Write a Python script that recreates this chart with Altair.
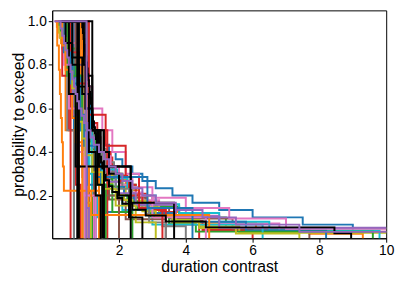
import altair as alt
import pandas as pd

# --- short samples ---
a01 = [0.06, 1.03]
a02 = [0.3, 0.75]
a03 = [0.45, 0.8]
a04 = [0.1, 0.9]
a05 = [0.2, 0.95]
a06 = [0.15, 1.0]
a07 = [0.1, 0.55]
a08 = [0.2, 0.97]
a09 = [0.25, 1.05, 1.4]
a10 = [0.3, 1.1, 1.65]
a11 = [0.4, 1.2, 1.55]
a12 = [0.3, 1.0, 1.5]
a13 = [0.2, 0.5, 0.7, 2.35]
a14 = [0.3, 1.02, 1.18, 1.5]
a15 = [0.3, 1.02, 1.2, 1.35, 1.5]
a16 = [0.2, 0.6, 0.85, 1.05, 1.3]
a17 = [0.15, 0.7, 1.0, 1.1, 1.25, 2.0]
a18 = [0.2, 0.45, 0.9, 1.3, 1.6]
a19 = [0.1, 0.35, 0.5, 0.8, 0.97, 1.3]
a20 = [0.25, 0.6, 0.9, 1.1, 1.4, 2.35, 3.65]
a21 = [0.3, 0.5, 0.8, 1.1, 1.6, 2.2, 2.6, 3.3]
a22 = [0.2, 0.4, 0.6, 0.8, 1.0, 1.2, 1.45, 1.7, 2.0, 2.3, 2.7]
a23 = [0.15, 0.35, 0.55, 0.75, 0.95, 1.3, 2.85, 4.2]
a24 = [0.2, 0.3, 0.4, 0.5, 0.6, 0.7, 0.8, 0.9, 1.0, 1.2, 1.5, 1.9, 2.5, 3.1]
a25 = [0.12, 0.15, 0.2, 0.23, 0.26, 0.29, 0.32, 0.35, 1.17, 1.5]
a26 = [0.1, 0.3, 0.4, 0.5, 0.6, 0.7, 0.9, 1.1, 1.4, 4.7]
c01 = [0.2, 0.65]
c02 = [0.15, 0.4, 0.8]
c03 = [0.25, 0.6, 0.9, 1.2]
c04 = [0.18, 0.3, 0.5, 0.7, 0.85]
c05 = [0.1, 0.8, 1.0]
c06 = [0.2, 0.55, 0.75, 1.1]
c07 = [0.3, 0.7, 0.85, 0.95, 1.05, 1.25]
c08 = [0.12, 0.45, 0.65]
c09 = [0.22, 0.5, 0.6, 0.7, 0.9, 1.0, 1.15]
c10 = [0.3, 0.9, 1.0, 1.05, 1.15, 1.3, 1.45, 1.6, 2.0]
c11 = [0.2, 0.85, 0.95, 1.0, 1.08]
c12 = [0.15, 0.35, 0.55, 0.62, 0.8, 0.9, 1.0, 1.1]
c13 = [0.35, 0.95, 1.0, 1.1, 1.3, 1.45]
c14 = [0.4, 0.92, 0.98]
c15 = [0.25, 0.45, 0.6, 0.75, 0.88, 0.96, 1.04, 1.1, 1.2, 1.35, 1.55]
c16 = [0.3, 0.5, 0.7, 0.9, 1.1, 1.3, 1.5, 1.8, 2.4]
c17 = [0.2, 0.6, 0.8, 0.95, 1.2, 1.5, 1.8, 2.2, 2.6, 3.0, 4.6]

# --- long samples ---
b01 = [0.12, 0.2, 0.25, 0.3, 0.35, 0.4, 0.45, 0.5, 0.55, 0.6, 0.7, 0.8, 0.9, 1.0, 1.1, 1.2,
       1.35, 1.5, 1.7, 1.9, 2.1, 2.4, 2.7, 3.1, 3.6, 4.2, 5.0, 6.0, 7.5, 9.0, 11.0]
b02 = [0.1, 0.14, 0.18, 0.22, 0.26, 0.3, 0.34, 0.38, 0.42, 0.46, 0.5, 0.55, 0.6, 0.65, 0.7,
       0.75, 0.8, 0.86, 0.92, 0.98, 1.05, 1.12, 1.2, 1.3, 1.4, 1.5, 1.62, 1.75, 1.9, 2.05,
       2.2, 2.4, 2.6, 2.85, 3.1, 3.4, 3.8, 4.4, 6.1, 7.7, 9.3]
b03 = [0.2, 0.28, 0.35, 0.42, 0.5, 0.58, 0.66, 0.75, 0.85, 0.95, 1.05, 1.2, 1.35, 1.55, 1.8,
       2.1, 2.5, 3.0, 3.8, 5.2, 10.8]
b04 = [0.15, 0.22, 0.3, 0.38, 0.45, 0.52, 0.6, 0.68, 0.76, 0.85, 0.95, 1.05, 1.15, 1.3, 1.45,
       1.6, 1.8, 2.0, 2.25, 2.5, 2.8, 3.2, 3.7, 4.5, 6.0]
b05 = [0.2, 0.25, 0.3, 0.35, 0.4, 0.45, 0.5, 0.55, 0.6, 0.65, 0.7, 0.75, 0.8, 0.88, 0.95,
       1.05, 1.15, 1.25, 1.4, 1.55, 1.7, 1.9, 2.1, 2.4, 2.7, 3.1, 3.7, 4.5, 5.5, 7.4, 14.0]
b06 = [0.25, 0.32, 0.4, 0.48, 0.55, 0.62, 0.7, 0.78, 0.86, 0.95, 1.05, 1.15, 1.28, 1.42, 1.6,
       1.8, 2.05, 2.35, 2.8, 3.5, 5.4, 7.7]
b07 = [0.1, 0.18, 0.24, 0.3, 0.36, 0.42, 0.48, 0.54, 0.6, 0.66, 0.72, 0.78, 0.84, 0.9, 0.97,
       1.05, 1.15, 1.25, 1.4, 1.55, 1.75, 2.0, 2.3, 2.7, 3.2, 4.0, 5.0, 6.8, 12.0]
b08 = [0.3, 0.4, 0.5, 0.6, 0.7, 0.8, 0.9, 1.0, 1.1, 1.25, 1.4, 1.6, 1.85, 2.1, 2.4, 2.8, 3.3, 4.0]
b09 = [0.2, 0.24, 0.28, 0.32, 0.36, 0.4, 0.44, 0.48, 0.52, 0.56, 0.6, 0.65, 0.7, 0.75, 0.8,
       0.85, 0.9, 0.96, 1.02, 1.1, 1.18, 1.27, 1.37, 1.5, 1.65, 1.8, 2.0, 2.2, 2.5, 2.8, 3.2,
       3.7, 4.4, 5.6, 10.5]
b10 = [0.18, 0.25, 0.32, 0.38, 0.44, 0.5, 0.56, 0.62, 0.68, 0.75, 0.82, 0.9, 0.98, 1.08, 1.2,
       1.35, 1.5, 1.7, 1.95, 2.25, 2.6, 3.1, 3.8, 5.0, 6.5, 9.8]
b11 = [0.3, 0.36, 0.42, 0.48, 0.54, 0.6, 0.66, 0.72, 0.78, 0.84, 0.9, 0.96, 1.03, 1.1, 1.2,
       1.3, 1.42, 1.56, 1.72, 1.9, 2.15, 2.45, 2.9, 3.6, 5.8, 8.2]
b12 = [0.15, 0.3, 0.45, 0.6, 0.75, 0.9, 1.05, 1.2, 1.35, 1.55, 1.75, 2.0, 2.3, 2.7, 3.4, 4.4]
b13 = [0.2, 0.9, 0.92, 0.94, 0.96, 0.98, 1.0, 1.02, 1.04, 1.06, 1.08, 1.1, 1.12, 1.14, 1.16,
       1.18, 1.2, 1.22, 1.25, 1.28, 1.31, 1.34, 1.38, 1.42, 1.46, 1.5, 1.55, 1.6, 1.7, 1.8,
       1.95, 2.1, 2.4, 2.8, 3.4, 4.6, 8.45, 8.95]
b14 = [0.25, 0.35, 0.45, 0.55, 0.65, 0.72, 0.8, 0.88, 0.96, 1.05, 1.15, 1.27, 1.4, 1.55, 1.75,
       2.0, 2.4, 3.0, 4.0, 5.3, 7.0, 12.0]
b15 = [0.15, 0.2, 0.26, 0.32, 0.38, 0.44, 0.5, 0.56, 0.62, 0.68, 0.74, 0.8, 0.86, 0.92, 0.98,
       1.05, 1.12, 1.2, 1.3, 1.4, 1.52, 1.65, 1.8, 2.0, 2.25, 2.55, 2.95, 3.5, 4.3, 9.6]
b16 = [0.2, 0.3, 0.4, 0.5, 0.6, 0.7, 0.8, 0.9, 1.0, 1.1, 1.25, 1.45, 1.7, 2.1, 3.0, 6.3]
b17 = [0.3, 0.45, 0.6, 0.75, 0.9, 1.0, 1.1, 1.2, 1.4, 1.7, 2.2, 3.4]
b18 = [0.12, 0.16, 0.2, 0.24, 0.28, 0.32, 0.36, 0.4, 0.44, 0.48, 0.52, 0.56, 0.6, 0.64, 0.68,
       0.72, 0.76, 0.8, 0.85, 0.9, 0.95, 1.0, 1.06, 1.12, 1.19, 1.26, 1.34, 1.43, 1.53, 1.65,
       1.8, 1.95, 2.15, 2.4, 2.7, 3.1, 3.6, 4.4, 5.5, 7.4]
b19 = [0.2, 0.35, 0.5, 0.65, 0.8, 0.95, 1.1, 1.25, 1.4, 1.6, 1.9, 2.3, 2.9, 3.4]
b20 = [0.25, 0.33, 0.41, 0.49, 0.57, 0.65, 0.73, 0.81, 0.9, 1.0, 1.1, 1.22, 1.36, 1.52, 1.72,
       2.0, 2.5, 3.7, 5.0, 11.0]

C = {"C0": "#1f77b4", "C1": "#ff7f0e", "C2": "#2ca02c", "C3": "#d62728", "C4": "#9467bd",
     "C5": "#8c564b", "C6": "#e377c2", "C7": "#7f7f7f", "C8": "#bcbd22", "C9": "#17becf",
     "K": "#000000"}

series = [
    ("b01", b01, "C0"), ("b02", b02, "C1"), ("b03", b03, "C2"), ("b04", b04, "C3"),
    ("b06", b06, "C5"), ("b07", b07, "C6"), ("b08", b08, "C7"),
    ("b09", b09, "C8"), ("b10", b10, "C9"), ("b11", b11, "C0"), ("b12", b12, "C3"),
    ("b14", b14, "C6"), ("b15", b15, "C2"), ("b16", b16, "C9"),
    ("b17", b17, "C5"), ("b18", b18, "C8"), ("b19", b19, "C7"), ("b20", b20, "C4"),
    ("c01", c01, "C0"), ("c02", c02, "C1"), ("c03", c03, "C2"), ("c04", c04, "C3"),
    ("c05", c05, "C9"), ("c06", c06, "C5"), ("c07", c07, "C6"), ("c08", c08, "C7"),
    ("c09", c09, "C8"), ("c10", c10, "C0"), ("c11", c11, "C1"), ("c12", c12, "C4"),
    ("c14", c14, "C3"), ("c15", c15, "C9"), ("c16", c16, "C2"), ("c17", c17, "C6"),
    ("a05", a05, "C8"), ("a06", a06, "C7"), ("a07", a07, "C3"), ("a08", a08, "C6"),
    ("a04", a04, "C1"), ("a09", a09, "C1"), ("a10", a10, "C3"), ("a12", a12, "C7"),
    ("a14", a14, "C9"), ("a16", a16, "C0"), ("a17", a17, "C5"), ("a18", a18, "C2"),
    ("a19", a19, "C6"), ("a21", a21, "C3"), ("a23", a23, "C0"), ("a24", a24, "C8"),
    ("a25", a25, "C1"), ("a26", a26, "C1"),
    ("b13", b13, "K"), ("a02", a02, "K"), ("a03", a03, "K"), ("a11", a11, "K"),
    ("a13", a13, "K"), ("a15", a15, "K"), ("a20", a20, "K"), ("a22", a22, "K"),
    ("c13", c13, "K"),
    ("b05", b05, "C4"), ("a01", a01, "C4"),
]

rows = []
for name, vals, col in series:
    n = len(vals)
    for i, v in enumerate(vals):
        rows.append({"series": name, "x": v, "p": 1 - i / (n - 1), "i": i})
df = pd.DataFrame(rows)

names = [s[0] for s in series]
colors = [C[s[2]] for s in series]

chart = alt.Chart(df).mark_line(
    interpolate="step-after", clip=True, strokeWidth=2
).encode(
    x=alt.X("x:Q", scale=alt.Scale(domain=[0, 10], nice=False, zero=False),
            axis=alt.Axis(values=[2, 4, 6, 8, 10], title="duration contrast", grid=False,
                          format="d", labelFlush=False, titlePadding=1)),
    y=alt.Y("p:Q", scale=alt.Scale(domain=[0.004, 1.05], nice=False, zero=False),
            axis=alt.Axis(values=[0.2, 0.4, 0.6, 0.8, 1.0], format=".1f", labelFlush=False,
                          title="probability to exceed", grid=False, titlePadding=1)),
    color=alt.Color("series:N", scale=alt.Scale(domain=names, range=colors), legend=None),
    order=alt.Order("i:Q"),
    detail="series:N",
).properties(
    width=340, height=232,
    autosize=alt.AutoSizeParams(type="none"),
    padding={"left": 45, "top": 0, "right": 12, "bottom": 37},
).configure_view(
    stroke="black", strokeWidth=1
).configure_axis(
    domain=True, domainColor="black", tickColor="black", tickSize=4,
    labelFont="Liberation Sans", labelFontSize=14, labelColor="black",
    titleFont="Liberation Sans", titleFontSize=16, titleFontWeight="normal", titleColor="black",
    labelPadding=2,
)

chart.save("out.html", embed_options={"renderer": "svg", "actions": False})
